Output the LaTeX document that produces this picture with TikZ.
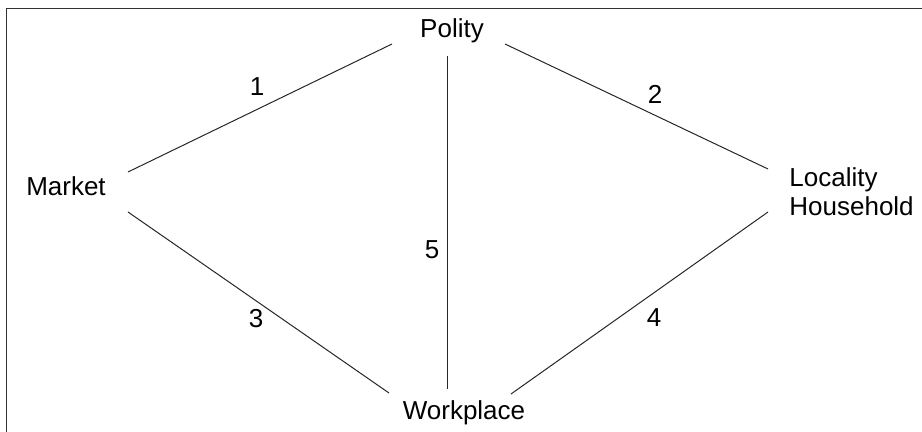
\documentclass[tikz,border=0pt]{standalone}
\usepackage{fontspec}
\setmainfont{Liberation Sans}
\usetikzlibrary{positioning}
\usetikzlibrary{calc}

\begin{document}
\begin{tikzpicture}[x=0.5pt, y=-0.5pt,
    every node/.style={font=\fontsize{13}{14.5}\selectfont, inner sep=0pt},
    link/.style={line width=0.5pt, black!85}]
    \useasboundingbox (0,0) rectangle (922,432);

    % Frame (only top and left edges show)
    \draw[line width=0.8pt, black!80] (6.5,432) -- (6.5,8.5) -- (922,8.5);

    % Spheres
    \node[anchor=base] (pol) at (452,38) {Polity};
    \node[anchor=base] (mkt) at (66,196) {Market};
    \node[anchor=base west, align=left] (loc) at (789,216) {Locality\\Household};
    \node[anchor=base] (wrk) at (464,420) {Workplace};

    % Line ends next to the labels
    \coordinate (pol-w) at (392,44);
    \coordinate (pol-s) at (447,56);
    \coordinate (pol-e) at (505,44);
    \coordinate (mkt-ne) at (128,172);
    \coordinate (mkt-se) at (128,212);
    \coordinate (loc-nw) at (768,169);
    \coordinate (loc-sw) at (768,212);
    \coordinate (wrk-nw) at (389,393);
    \coordinate (wrk-n) at (447,389);
    \coordinate (wrk-ne) at (511,394);

    \foreach \a/\b in {mkt-ne/pol-w, pol-e/loc-nw, pol-s/wrk-n, mkt-se/wrk-nw, loc-sw/wrk-ne} {
        \draw[link] (\a) -- (\b);
    }

    % Link numbers
    \foreach \n/\x/\y in {1/257/87, 2/655/94, 3/256/319, 4/654/318, 5/432/250} {
        \node (n\n) at (\x,\y) {\n};
    }
\end{tikzpicture}
\end{document}
